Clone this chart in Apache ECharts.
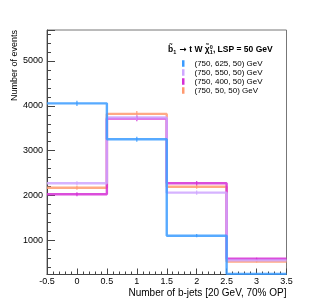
<!DOCTYPE html>
<html><head><meta charset="utf-8">
<script src="https://cdn.jsdelivr.net/npm/echarts@6/dist/echarts.min.js"></script>
<style>html,body{margin:0;padding:0;background:#fff}#c{width:319px;height:306px}</style>
</head><body><div id="c"></div>
<script>
// ---- data ----
const binEdges = [-0.5, 0.5, 1.5, 2.5, 3.5];
const binCenters = [0, 1, 2, 3];
const seriesNames = ['(750, 625, 50) GeV', '(750, 550, 50) GeV', '(750, 400, 50) GeV', '(750, 50, 50) GeV'];
const m625 = [4055, 3255, 1105, 255];
const m550 = [2275, 3740, 2065, 555];
const m400 = [2030, 3715, 2275, 590];
const m50  = [2175, 3820, 2195, 530];
const err625 = [60, 55, 35, 15];
const err550 = [45, 60, 45, 22];
const err400 = [45, 60, 48, 25];
const err50  = [45, 62, 45, 22];
const yTickLabels = [1000, 2000, 3000, 4000, 5000];
const xTickLabels = [-0.5, 0, 0.5, 1, 1.5, 2, 2.5, 3, 3.5];
const colors = ['#3a9bff', '#cfa6ff', '#d52ed5', '#ff9a70'];
const yMin = 240, yMax = 5690;

const allVals = [m625, m550, m400, m50];
const allErr = [err625, err550, err400, err50];
const font = 'Liberation Sans, Arial, Helvetica, DejaVu Sans, sans-serif';

function histPoints(vals) {
  const pts = [];
  for (let i = 0; i < vals.length; i++) {
    pts.push([binEdges[i], vals[i]]);
    pts.push([binEdges[i + 1], vals[i]]);
  }
  return pts;
}

const series = [];
[3, 2, 1, 0].forEach(k => {
  series.push({
    name: seriesNames[k], type: 'line', data: histPoints(allVals[k]),
    showSymbol: false, symbol: 'none', animation: false,
    color: colors[k], itemStyle: {color: colors[k]},
    lineStyle: {color: colors[k], width: 2.4, opacity: 0.85},
    z: 3
  });
  series.push({
    type: 'custom', animation: false, z: 4,
    data: binCenters.map((c, i) => [c, allVals[k][i], allErr[k][i]]),
    renderItem: (params, api) => {
      const x = api.value(0), v = api.value(1), e = api.value(2);
      const p1 = api.coord([x, v - e]), p2 = api.coord([x, v + e]);
      return {type: 'line', shape: {x1: p1[0], y1: p1[1], x2: p2[0], y2: p2[1]},
        style: {stroke: colors[k], lineWidth: 1.2, opacity: 0.9}};
    }
  });
});

const chart = echarts.init(document.getElementById('c'), null, {renderer: 'canvas'});
chart.setOption({
  animation: false,
  backgroundColor: '#fff',
  textStyle: {fontFamily: font},
  grid: {left: 47, right: 32.5, top: 30, bottom: 31.5, show: true, borderColor: '#777', borderWidth: 1, backgroundColor: 'transparent'},
  xAxis: {
    type: 'value', min: -0.5, max: 3.5, interval: 0.5,
    name: 'Number of b-jets [20 GeV, 70% OP]', nameLocation: 'end', nameGap: 0,
    nameTextStyle: {fontSize: 10, color: '#000', align: 'right', verticalAlign: 'top', padding: [14, 0, 0, 0], fontFamily: font},
    axisLine: {show: true, onZero: false, lineStyle: {color: '#444', width: 1}},
    axisTick: {show: true, inside: true, length: 6, lineStyle: {color: '#444'}},
    minorTick: {show: true, splitNumber: 5, length: 3, lineStyle: {color: '#444'}},
    axisLabel: {fontSize: 9, color: '#000', margin: 3, fontFamily: font,
      formatter: v => xTickLabels.some(t => Math.abs(t - v) < 1e-6) ? String(v) : ''},
    splitLine: {show: false}
  },
  yAxis: [{
    type: 'value', min: yMin, max: yMax, splitNumber: 5,
    axisLine: {show: true, onZero: false, lineStyle: {color: '#444', width: 1}},
    axisTick: {show: true, inside: true, length: 8, lineStyle: {color: '#444'}},
    axisLabel: {fontSize: 9, color: '#000', margin: 4, fontFamily: font,
      formatter: v => yTickLabels.indexOf(Math.round(v)) >= 0 ? String(Math.round(v)) : ''},
    splitLine: {show: false}
  }, {
    type: 'value', min: yMin, max: yMax, splitNumber: 27, position: 'left', offset: 0,
    axisLine: {show: false, onZero: false},
    axisTick: {show: true, inside: true, length: 4, lineStyle: {color: '#444'}},
    axisLabel: {show: false},
    splitLine: {show: false}
  }],
  legend: {
    data: seriesNames, orient: 'vertical', left: 177, top: 54,
    icon: 'rect', itemWidth: 2.5, itemHeight: 6.5, itemGap: 0,
    textStyle: {fontSize: 8, lineHeight: 9, color: '#000', fontFamily: font, padding: [0, 0, 0, 5]},
    selectedMode: false
  },
  graphic: [{
    type: 'text', x: 15, y: 30, rotation: Math.PI / 2,
    style: {text: 'Number of events', fontSize: 9, fontFamily: font, fill: '#000', align: 'right', verticalAlign: 'middle'}
  }, {
    type: 'text', left: 168, top: 44,
    style: {
      text: '{b|b\u0303}{s|1}{a| \u2192 }{b|t W \u03C7\u0303}{s|1}{p|0}{b|, LSP = 50 GeV}',
      rich: {
        b: {fontSize: 8.5, fontWeight: 'bold', fontFamily: font, fill: '#000'},
        a: {fontSize: 8.5, fontWeight: 'bold', fontFamily: 'DejaVu Sans', fill: '#000'},
        s: {fontSize: 5.5, fontWeight: 'bold', fontFamily: font, fill: '#000', verticalAlign: 'bottom', padding: [3, 0, 0, 0]},
        p: {fontSize: 5.5, fontWeight: 'bold', fontFamily: font, fill: '#000', padding: [0, 0, 5, -3]}
      }
    }
  }],
  series: series
});
</script></body></html>
